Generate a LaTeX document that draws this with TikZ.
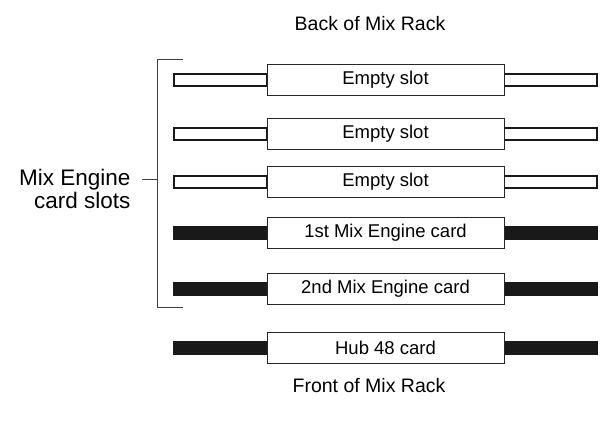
\documentclass[tikz,border=0pt]{standalone}
\usepackage{fontspec}
\setmainfont{Liberation Sans}
\begin{document}
\begin{tikzpicture}[x=1pt,y=-1pt,
  card/.style={draw=black!85, line width=1pt, fill=white, minimum width=237pt, minimum height=31pt, inner sep=0pt, font=\fontsize{18.5}{20}\selectfont},
  emptybar/.style={draw=black!90, line width=2pt, fill=white},
  fullbar/.style={fill=black!90, draw=none},
  title/.style={font=\fontsize{19.5}{22}\selectfont},
  bracket/.style={draw=black!75, line width=0.8pt}]
\useasboundingbox (0,0) rectangle (602,424);
\node[title] (back) at (370,24) {Back of Mix Rack};
\node[title] (front) at (369,386) {Front of Mix Rack};
% empty slots
\foreach \n/\y in {s1/80, s2/133.5, s3/182}{
  \draw[emptybar] (174,\y-6) rectangle (267,\y+6);
  \draw[emptybar] (504,\y-6) rectangle (597,\y+6);
  \node[card] (\n) at (385.5,\y) {Empty slot};
}
% fitted cards
\foreach \n/\y/\t in {s4/232.5/1st Mix Engine card, s5/288.5/2nd Mix Engine card, s6/348/Hub 48 card}{
  \fill[fullbar] (173,\y-7) rectangle (267,\y+7);
  \fill[fullbar] (504,\y-7) rectangle (598,\y+7);
  \node[card] (\n) at (385.5,\y) {\t};
}
% bracket
\coordinate (bt) at (183,59);
\coordinate (bb) at (183,307);
\coordinate (bm) at (157,179);
\draw[bracket] (bt) -- (157,59) -- (157,307) -- (bb);
\node[align=right, anchor=east, font=\fontsize{22.5}{23}\selectfont] (lab) at (134,189) {Mix Engine\\card slots};
\draw[bracket] (142,179) -- (bm);
\end{tikzpicture}
\end{document}
